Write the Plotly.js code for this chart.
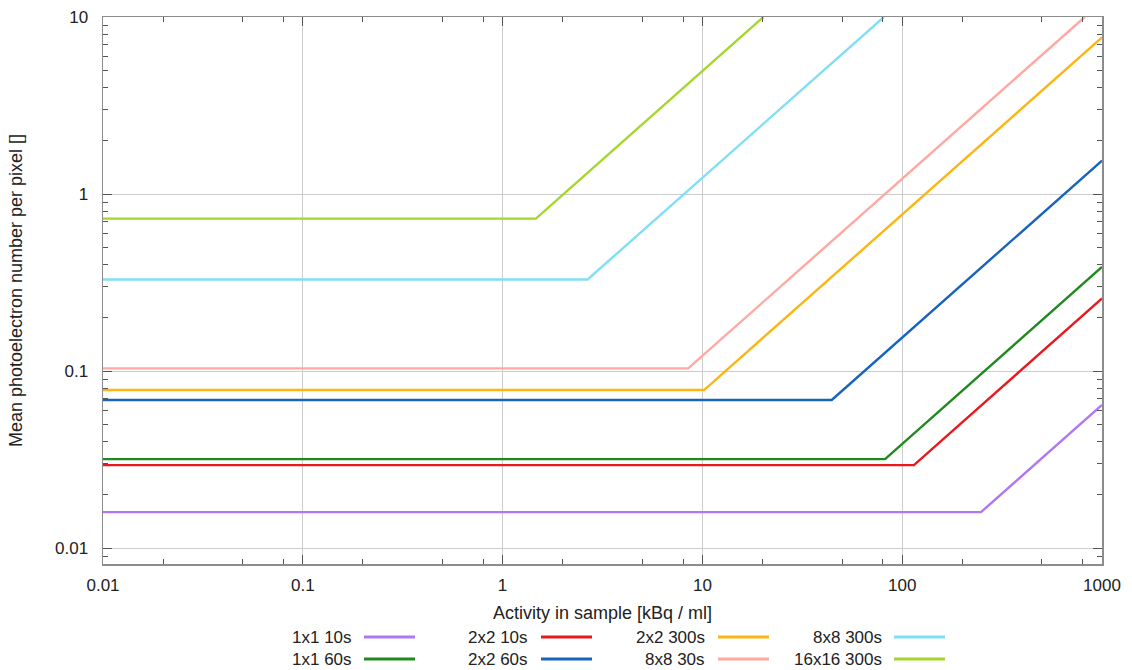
<!DOCTYPE html>
<html>
<head>
<meta charset="utf-8">
<script src="https://cdn.plot.ly/plotly-3.0.1.min.js"></script>
<style>html,body{margin:0;padding:0;background:#fff;}#chart{width:1132px;height:670px;}</style>
</head>
<body>
<div id="chart"></div>
<script>
// ---- data ----
const seriesNames = ["1x1 10s", "1x1 60s", "2x2 10s", "2x2 60s", "2x2 300s", "8x8 30s", "8x8 300s", "16x16 300s"];
const seriesColors = ["#b077f5", "#20891f", "#e8191d", "#1763bd", "#fcb612", "#ffa9a2", "#7fdff5", "#a5d62b"];
const x_1x1_10s = [0.01, 248, 1000];      const y_1x1_10s = [0.01596, 0.01596, 0.0643];
const x_1x1_60s = [0.01, 82.1, 1000];     const y_1x1_60s = [0.0318, 0.0318, 0.387];
const x_2x2_10s = [0.01, 114.5, 1000];    const y_2x2_10s = [0.0294, 0.0294, 0.257];
const x_2x2_60s = [0.01, 44.4, 1000];     const y_2x2_60s = [0.0686, 0.0686, 1.545];
const x_2x2_300s = [0.01, 10.19, 1000];   const y_2x2_300s = [0.0781, 0.0781, 7.66];
const x_8x8_30s = [0.01, 8.49, 820];      const y_8x8_30s = [0.1035, 0.1035, 10];
const x_8x8_300s = [0.01, 2.665, 81];     const y_8x8_300s = [0.329, 0.329, 10];
const x_16x16_300s = [0.01, 1.468, 20.2]; const y_16x16_300s = [0.726, 0.726, 10];
const seriesX = [x_1x1_10s, x_1x1_60s, x_2x2_10s, x_2x2_60s, x_2x2_300s, x_8x8_30s, x_8x8_300s, x_16x16_300s];
const seriesY = [y_1x1_10s, y_1x1_60s, y_2x2_10s, y_2x2_60s, y_2x2_300s, y_8x8_30s, y_8x8_300s, y_16x16_300s];
const xTickVals = [0.01, 0.1, 1, 10, 100, 1000];
const xTickText = ["0.01", "0.1", "1", "10", "100", "1000"];
const yTickVals = [0.01, 0.1, 1, 10];
const yTickText = ["0.01", "0.1", "1", "10"];
const xMinorTicks = [0.02, 0.05, 0.08, 0.2, 0.5, 0.8, 2, 5, 8, 20, 50, 80, 200, 500, 800];
const yMinorTicks = [0.008, 0.009, 0.02, 0.03, 0.04, 0.05, 0.06, 0.07, 0.08, 0.09,
                     0.2, 0.3, 0.4, 0.5, 0.6, 0.7, 0.8, 0.9, 2, 3, 4, 5, 6, 7, 8, 9];

const xRange = [-2, 3];
const yRange = [-2.09, 1.0];

// ---- traces ----
const traces = seriesNames.map((n, i) => ({
  type: "scatter", mode: "lines", name: n,
  x: seriesX[i], y: seriesY[i],
  line: {color: seriesColors[i], width: 2.4},
  showlegend: false, hoverinfo: "skip"
}));
// empty trace to activate the minor-tick overlay axes
traces.unshift({type: "scatter", mode: "lines", x: [], y: [], xaxis: "x2", yaxis: "y2", showlegend: false, hoverinfo: "skip"});

// ---- custom gnuplot-style legend (text, then line sample) ----
const W = 1132, H = 670;
const PL = 103, PR = 1102, PT = 17, PB = 564;
const colTextRight = [354, 530, 707, 884];
const colLineStart = [364, 541, 718, 894];
const lineLen = 51;
const rowY = [637, 659];
const px2x = p => (p - PL) / (PR - PL);
const py2y = p => (PB - p) / (PB - PT);
const annotations = [], shapes = [];
const fontFam = "Liberation Sans, Arial, sans-serif";
seriesNames.forEach((n, i) => {
  const col = Math.floor(i / 2), row = i % 2;
  const yp = py2y(rowY[row]);
  annotations.push({
    xref: "paper", yref: "paper", showarrow: false,
    x: px2x(colTextRight[col]), y: yp,
    xanchor: "right", yanchor: "middle", text: n,
    font: {family: fontFam, size: 17, color: "#222"}
  });
  shapes.push({
    type: "line", xref: "paper", yref: "paper",
    x0: px2x(colLineStart[col]), x1: px2x(colLineStart[col] + lineLen),
    y0: yp, y1: yp,
    line: {color: seriesColors[i], width: 3}
  });
});

const tickFont = {family: fontFam, size: 17, color: "#222"};
const titleFont = {family: fontFam, size: 18, color: "#222"};
const layout = {
  width: W, height: H,
  margin: {l: PL, r: W - PR, t: PT, b: H - PB},
  paper_bgcolor: "#fff", plot_bgcolor: "#fff",
  showlegend: false,
  xaxis: {
    type: "log", range: xRange,
    tickmode: "array", tickvals: xTickVals, ticktext: xTickText,
    ticks: "inside", ticklen: 9, tickcolor: "#555", tickwidth: 1,
    showline: true, linecolor: "#8c8c8c", linewidth: 1.5, mirror: "allticks",
    showgrid: true, gridcolor: "#cccccc", gridwidth: 1,
    zeroline: false, tickfont: tickFont, ticklabelstandoff: 5,
    title: {text: "Activity in sample [kBq / ml]", font: titleFont, standoff: 12}
  },
  yaxis: {
    type: "log", range: yRange,
    tickmode: "array", tickvals: yTickVals, ticktext: yTickText,
    ticks: "inside", ticklen: 9, tickcolor: "#555", tickwidth: 1,
    showline: true, linecolor: "#8c8c8c", linewidth: 1.5, mirror: "allticks",
    showgrid: true, gridcolor: "#cccccc", gridwidth: 1,
    zeroline: false, tickfont: tickFont, ticklabelstandoff: 10,
    title: {text: "Mean photoelectron number per pixel []", font: titleFont, standoff: 27}
  },
  xaxis2: {
    type: "log", range: xRange, overlaying: "x", anchor: "y2", side: "bottom",
    tickmode: "array", tickvals: xMinorTicks, showticklabels: false,
    ticks: "inside", ticklen: 5, tickcolor: "#555", tickwidth: 1,
    showline: false, mirror: "ticks", showgrid: false, zeroline: false
  },
  yaxis2: {
    type: "log", range: yRange, overlaying: "y", anchor: "x2", side: "left",
    tickmode: "array", tickvals: yMinorTicks, showticklabels: false,
    ticks: "inside", ticklen: 5, tickcolor: "#555", tickwidth: 1,
    showline: false, mirror: "ticks", showgrid: false, zeroline: false
  },
  annotations: annotations,
  shapes: shapes
};
Plotly.newPlot("chart", traces, layout, {displayModeBar: false, staticPlot: true});
</script>
</body>
</html>
